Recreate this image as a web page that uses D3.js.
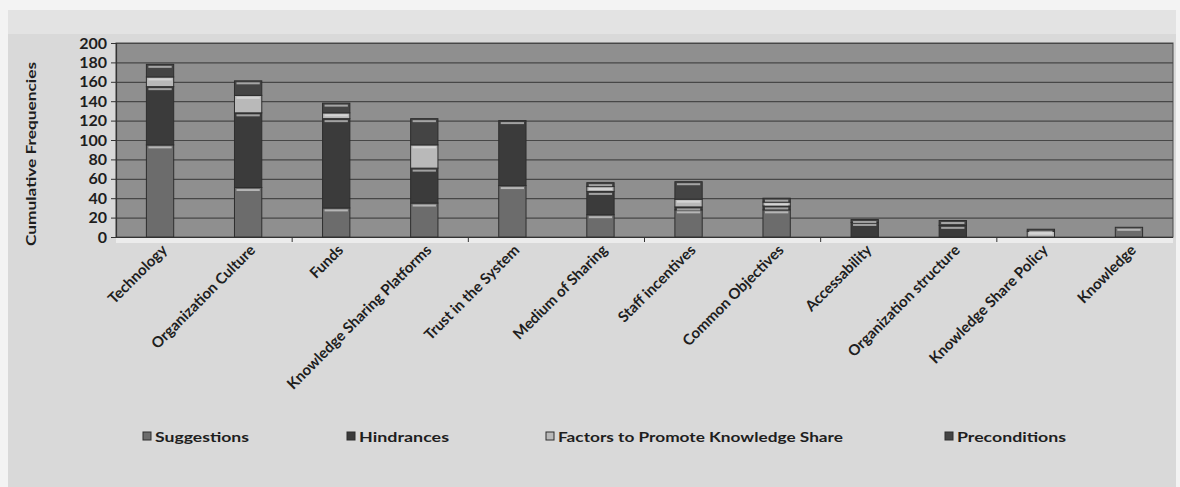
<!DOCTYPE html>
<html>
<head>
<meta charset="utf-8">
<script src="https://cdn.jsdelivr.net/npm/d3@7/dist/d3.min.js"></script>
<style>
  html, body { margin: 0; padding: 0; background: #f3f3f3; }
  svg { display: block; }
  text { font-family: Lato, "Open Sans", sans-serif; font-weight: bold; fill: #1e1e1e; }
</style>
</head>
<body>
<div id="chart"></div>
<script>
const categories = ["Technology", "Organization Culture", "Funds", "Knowledge Sharing Platforms",
  "Trust in the System", "Medium of Sharing", "Staff incentives", "Common Objectives",
  "Accessability", "Organization structure", "Knowledge Share Policy", "Knowledge"]

const suggestions   = [95, 51, 30, 35, 53, 23, 28, 28, 0, 0, 0, 10]
const hindrances    = [60, 77, 92, 36, 67, 24, 3, 4, 15, 12, 0, 0]
const factors       = [10, 18, 6, 24, 0, 5, 8, 4, 0, 0, 6, 0]
const preconditions = [13, 15, 10, 27, 0, 4, 18, 4, 3, 5, 2, 0]

const seriesNames = ["Suggestions", "Hindrances", "Factors to Promote Knowledge Share", "Preconditions"]
const yTicks = [0, 20, 40, 60, 80, 100, 120, 140, 160, 180, 200]

const width = 1180, height = 487
const plot = { left: 116, right: 1173, top: 43, bottom: 237 }
const colors = ["#6c6c6c", "#3b3b3b", "#b9b9b9", "#444444"]

const rows = categories.map((c, i) => ({
  category: c,
  Suggestions: suggestions[i],
  Hindrances: hindrances[i],
  "Factors to Promote Knowledge Share": factors[i],
  Preconditions: preconditions[i]
}))

const stacked = d3.stack().keys(seriesNames)(rows)

const svg = d3.select("#chart").append("svg")
  .attr("width", width)
  .attr("height", height)

// scanned page background
svg.append("rect")
  .attr("x", 8).attr("y", 10)
  .attr("width", 1168).attr("height", height - 10)
  .attr("fill", "#d9d9d9")
svg.append("rect")
  .attr("x", 8).attr("y", 10)
  .attr("width", 1168).attr("height", 24)
  .attr("fill", "#e3e3e3")

const x = d3.scaleBand()
  .domain(categories)
  .range([plot.left, plot.right])
  .paddingInner(0.69)
  .paddingOuter(0.345)

const y = d3.scaleLinear()
  .domain([0, 200])
  .range([plot.bottom, plot.top])

// plot area
svg.append("rect")
  .attr("x", plot.left).attr("y", plot.top)
  .attr("width", plot.right - plot.left)
  .attr("height", plot.bottom - plot.top)
  .attr("fill", "#8f8f8f")
  .attr("stroke", "#4a4a4a")
  .attr("stroke-width", 1)

svg.append("rect")
  .attr("x", plot.left).attr("y", plot.bottom + 1)
  .attr("width", plot.right - plot.left).attr("height", 5)
  .attr("fill", "#ececec")

// gridlines
svg.append("g")
  .selectAll("line")
  .data(yTicks.slice(1))
  .enter()
    .append("line")
    .attr("x1", plot.left)
    .attr("x2", plot.right)
    .attr("y1", d => y(d) + 0.5)
    .attr("y2", d => y(d) + 0.5)
    .attr("stroke", "#474747")
    .attr("stroke-width", 1.2)

// y axis
const yAxis = svg.append("g")
  .attr("transform", `translate(${plot.left},0)`)
  .call(d3.axisLeft(y).tickValues(yTicks).tickSize(5).tickPadding(4))
yAxis.select(".domain").attr("stroke", "#333").attr("stroke-width", 1.2)
yAxis.selectAll(".tick line").attr("stroke", "#333")
yAxis.selectAll(".tick text")
  .attr("font-size", 16)
  .attr("font-family", "Lato, sans-serif")
  .attr("font-weight", "900")
  .attr("fill", "#1e1e1e")

// x axis with a tick every second category
const xAxisLine = svg.append("g")
svg.append("line")
  .attr("x1", plot.left).attr("x2", plot.right)
  .attr("y1", plot.bottom + 0.5).attr("y2", plot.bottom + 0.5)
  .attr("stroke", "#333").attr("stroke-width", 1.2)
xAxisLine.selectAll("line")
  .data(categories.filter((d, i) => i % 2 === 1 && i < categories.length - 1))
  .enter()
    .append("line")
    .attr("x1", d => x(d) + x.bandwidth() + x.step() * x.paddingInner() / 2)
    .attr("x2", d => x(d) + x.bandwidth() + x.step() * x.paddingInner() / 2)
    .attr("y1", plot.bottom)
    .attr("y2", plot.bottom + 5)
    .attr("stroke", "#333")

// stacked bars
const layers = svg.append("g")
  .selectAll("g")
  .data(stacked)
  .enter()
    .append("g")
    .attr("fill", (d, i) => colors[i])

layers.selectAll("rect.seg")
  .data(d => d.filter(s => s[1] - s[0] > 0))
  .enter()
    .append("rect")
    .attr("class", "seg")
    .attr("x", d => x(d.data.category))
    .attr("y", d => y(d[1]))
    .attr("width", x.bandwidth())
    .attr("height", d => y(d[0]) - y(d[1]))
    .attr("stroke", "#2e2e2e")
    .attr("stroke-width", 1)

// bevel highlight at the top of each segment
layers.selectAll("rect.hl")
  .data(d => d.filter(s => s[1] - s[0] > 0))
  .enter()
    .append("rect")
    .attr("class", "hl")
    .attr("x", d => x(d.data.category) + 2)
    .attr("y", d => y(d[1]) + 1.5)
    .attr("width", x.bandwidth() - 4)
    .attr("height", 2)
    .attr("fill", "#e6e6e6")
    .attr("opacity", 0.6)

// category labels
svg.append("g")
  .selectAll("text")
  .data(categories)
  .enter()
    .append("text")
    .attr("transform", d => `translate(${x(d) + x.bandwidth() / 2 + 8},${plot.bottom + 14}) rotate(-45)`)
    .attr("text-anchor", "end")
    .attr("font-size", 15)
    .attr("font-weight", "900")
    .text(d => d)

// y axis title
svg.append("text")
  .attr("transform", "translate(36,154) rotate(-90)")
  .attr("text-anchor", "middle")
  .attr("font-size", 14)
  .attr("font-weight", "900")
  .attr("textLength", 184)
  .attr("lengthAdjust", "spacingAndGlyphs")
  .text("Cumulative Frequencies")

// legend
const legendX = [143, 347, 546, 945]
const legendW = [94, 90, 285, 109]
const legend = svg.append("g")
  .selectAll("g")
  .data(seriesNames)
  .enter()
    .append("g")
    .attr("transform", (d, i) => `translate(${legendX[i]},437)`)
legend.append("rect")
  .attr("x", 0).attr("y", -5)
  .attr("width", 8).attr("height", 8)
  .attr("fill", (d, i) => colors[i])
  .attr("stroke", "#2e2e2e")
legend.append("text")
  .attr("x", 12)
  .attr("y", 5)
  .attr("font-size", 14)
  .attr("textLength", (d, i) => legendW[i])
  .attr("lengthAdjust", "spacingAndGlyphs")
  .text(d => d)
</script>
</body>
</html>
